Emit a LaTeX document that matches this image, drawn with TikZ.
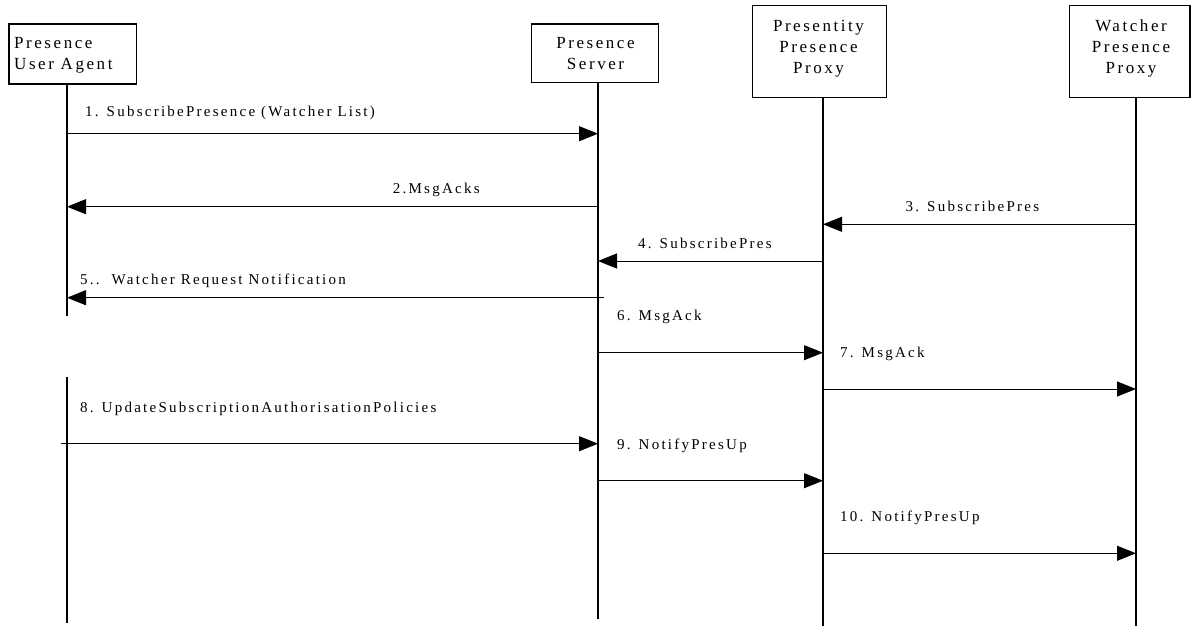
\documentclass[tikz,border=0pt]{standalone}
\usepackage{fontspec}
\setmainfont{Liberation Serif}
\newfontfamily\lblfont[LetterSpace=15]{Liberation Serif}
\usetikzlibrary{arrows.meta}
\tikzset{
  actor/.style={draw, line width=1.3pt, inner sep=0pt},
  boxtxt/.style={inner sep=0pt, font=\lblfont\fontsize{17}{21}\selectfont},
  lifeline/.style={line width=1.3pt},
  msg/.style={line width=1pt, -{Triangle[length=19pt,width=15pt]}},
  lbl/.style={anchor=base west, inner sep=0pt, font=\lblfont\fontsize{15}{18}\selectfont},
}
\begin{document}
\begin{tikzpicture}[x=1pt,y=-1pt]
\useasboundingbox (0,0) rectangle (1191,626);
% actor boxes
\node[actor, minimum width=127.7pt, minimum height=60pt] (ua) at (72.85,54) {};
\node[actor, minimum width=127pt, minimum height=58.5pt] (ps) at (595.2,53.25) {};
\node[actor, minimum width=134pt, minimum height=92pt] (pp) at (819.7,51.3) {};
\node[actor, minimum width=120.7pt, minimum height=92pt] (wp) at (1129.65,51.3) {};
% actor texts (anchored at the baseline of their last line)
\node[boxtxt, align=left, anchor=base west] (uaT) at (14,70) {Presence\\User Agent};
\node[boxtxt, align=center, anchor=base] (psT) at (595.5,69.5) {Presence\\Server};
\node[boxtxt, align=center, anchor=base] (ppT) at (818.5,73.3) {Presentity\\Presence\\Proxy};
\node[boxtxt, align=center, anchor=base] (wpT) at (1131,73.3) {Watcher\\Presence\\Proxy};
% lifeline ends
\coordinate (uaTop) at (67,84);
\coordinate (uaGapA) at (67,315.7);
\coordinate (uaGapB) at (67,377.3);
\coordinate (uaBot) at (67,622.7);
\coordinate (psTop) at (598,82.5);
\coordinate (psBot) at (598,619.3);
\coordinate (ppTop) at (823,97.3);
\coordinate (ppBot) at (823,626);
\coordinate (wpTop) at (1136,97.3);
\coordinate (wpBot) at (1136,626);
\draw[lifeline] (uaTop) -- (uaGapA);
\draw[lifeline] (uaGapB) -- (uaBot);
\draw[lifeline] (psTop) -- (psBot);
\draw[lifeline] (ppTop) -- (ppBot);
\draw[lifeline] (wpTop) -- (wpBot);
% message end points
\coordinate (m1a) at (67,133.7);   \coordinate (m1b) at (598,133.7);
\coordinate (m2a) at (599,206.7);  \coordinate (m2b) at (67,206.7);
\coordinate (m3a) at (1136,224.3); \coordinate (m3b) at (823,224.3);
\coordinate (m4a) at (823,261);    \coordinate (m4b) at (598,261);
\coordinate (m5a) at (604,297.7);  \coordinate (m5b) at (67,297.7);
\coordinate (m6a) at (598,352.7);  \coordinate (m6b) at (823,352.7);
\coordinate (m7a) at (823,389);    \coordinate (m7b) at (1136,389);
\coordinate (m8a) at (61,443.7);   \coordinate (m8b) at (598,443.7);
\coordinate (m9a) at (598,480.7);  \coordinate (m9b) at (823,480.7);
\coordinate (m10a) at (823,553.3); \coordinate (m10b) at (1136,553.3);
\draw[msg] (m1a) -- (m1b);
\draw[msg] (m2a) -- (m2b);
\draw[msg] (m3a) -- (m3b);
\draw[msg] (m4a) -- (m4b);
\draw[msg] (m5a) -- (m5b);
\draw[msg] (m6a) -- (m6b);
\draw[msg] (m7a) -- (m7b);
\draw[msg] (m8a) -- (m8b);
\draw[msg] (m9a) -- (m9b);
\draw[msg] (m10a) -- (m10b);
% message labels
\node[lbl] (l1) at (85,116.7) {1. SubscribePresence (Watcher List)};
\node[lbl] (l2) at (392.7,193.3) {2.MsgAcks};
\node[lbl] (l3) at (905.5,211.7) {3. SubscribePres};
\node[lbl] (l4) at (638,248) {4. SubscribePres};
\node[lbl] (l5) at (80,284) {5..\ \ Watcher Request Notification};
\node[lbl] (l6) at (617,320.5) {6. MsgAck};
\node[lbl] (l7) at (840,357) {7. MsgAck};
\node[lbl] (l8) at (80,412.5) {8. UpdateSubscriptionAuthorisationPolicies};
\node[lbl] (l9) at (617,449) {9. NotifyPresUp};
\node[lbl] (l10) at (840,521.5) {10. NotifyPresUp};
\end{tikzpicture}
\end{document}
